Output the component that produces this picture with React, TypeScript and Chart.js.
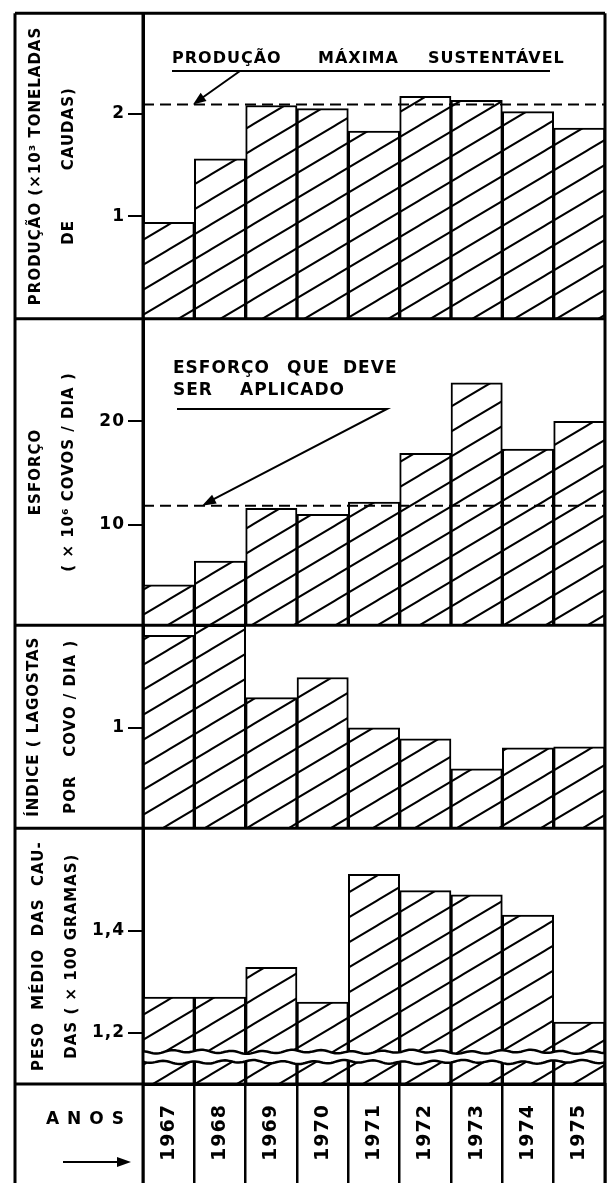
import React, { useEffect, useRef } from "react";
import { Chart, registerables } from "chart.js";

Chart.register(...registerables);

// ---------- data ----------
const YEARS = ["1967", "1968", "1969", "1970", "1971", "1972", "1973", "1974", "1975"];
// Produção (x10^3 toneladas de caudas)
const PRODUCAO = [0.94, 1.56, 2.08, 2.05, 1.83, 2.17, 2.13, 2.02, 1.86];
const PRODUCAO_MAX_SUSTENTAVEL = 2.09;
// Esforço (x10^6 covos/dia)
const ESFORCO = [4.2, 6.5, 11.6, 11.0, 12.2, 16.9, 23.7, 17.3, 20.0];
const ESFORCO_IDEAL = 11.85;
// Índice (lagostas por covo/dia)
const INDICE = [1.92, 2.02, 1.3, 1.5, 1.0, 0.89, 0.59, 0.8, 0.81];
// Peso médio das caudas (x100 gramas)
const PESO = [1.27, 1.27, 1.328, 1.26, 1.51, 1.478, 1.47, 1.43, 1.221];
const PESO_BREAK = [1.143, 1.163];

const PROD_TICKS = [1, 2];
const ESF_TICKS = [10, 20];
const IND_TICKS = [1];
const PESO_TICKS = [1.2, 1.4];

const PROD_TITLE = ["PRODUÇÃO (×10³ TONELADAS", "DE        CAUDAS)"];
const ESF_TITLE = ["ESFORÇO", "( × 10⁶ COVOS / DIA )"];
const IND_TITLE = ["ÍNDICE ( LAGOSTAS", "POR   COVO / DIA )"];
const PESO_TITLE = ["PESO  MÉDIO  DAS  CAU-", "DAS ( × 100 GRAMAS)"];

const FONT = "'DejaVu Sans', sans-serif";

function makeHatch(ctx: CanvasRenderingContext2D) {
  const W = 42;
  const H = 25;
  const c = document.createElement("canvas");
  c.width = W;
  c.height = H;
  const g = c.getContext("2d")!;
  g.fillStyle = "#fff";
  g.fillRect(0, 0, W, H);
  g.strokeStyle = "#000";
  g.lineWidth = 2;
  for (const dy of [-H, 0, H]) {
    g.beginPath();
    g.moveTo(-W, 2 * H + dy);
    g.lineTo(2 * W, -H + dy);
    g.stroke();
  }
  return ctx.createPattern(c, "repeat")!;
}

function yScale(opts: {
  min: number;
  max: number;
  ticks: number[];
  weight: number;
  stackWeight: number;
  title: string[];
  titlePad: number;
  lineHeight: number;
  fmt: (v: number) => string;
}) {
  return {
    type: "linear",
    position: "left",
    stack: "panels",
    stackWeight: opts.stackWeight,
    weight: opts.weight,
    min: opts.min,
    max: opts.max,
    afterFit: (s: any) => {
      s.width = 128;
    },
    afterBuildTicks: (s: any) => {
      s.ticks = opts.ticks.map((v) => ({ value: v }));
    },
    grid: { drawOnChartArea: false, drawTicks: true, tickLength: 15, color: "#000", lineWidth: 2 },
    border: { display: true, color: "#000", width: 3 },
    ticks: {
      color: "#000",
      padding: 3,
      font: { family: FONT, size: 17, weight: "bold" },
      callback: (v: any) => opts.fmt(Number(v)),
    },
    title: {
      display: true,
      text: opts.title,
      color: "#000",
      font: { family: FONT, size: 15, weight: "bold", lineHeight: opts.lineHeight + "px" },
      padding: { top: opts.titlePad, bottom: 0 },
    },
  };
}

function arrowHead(ctx: CanvasRenderingContext2D, x0: number, y0: number, x1: number, y1: number, len: number, wid: number) {
  const a = Math.atan2(y1 - y0, x1 - x0);
  ctx.beginPath();
  ctx.moveTo(x1, y1);
  ctx.lineTo(x1 - len * Math.cos(a) + wid * Math.sin(a), y1 - len * Math.sin(a) - wid * Math.cos(a));
  ctx.lineTo(x1 - len * Math.cos(a) - wid * Math.sin(a), y1 - len * Math.sin(a) + wid * Math.cos(a));
  ctx.closePath();
  ctx.fill();
}

function wave(x: number, phase: number) {
  return 1.3 * Math.sin(x * 0.21 + phase) + 0.8 * Math.sin(x * 0.057 + phase * 2);
}

const decoPlugin = {
  id: "deco",
  beforeDraw(chart: any) {
    chart.ctx.letterSpacing = "1px";
  },
  afterDatasetsDraw(chart: any) {
    const ctx: CanvasRenderingContext2D = chart.ctx;
    const { left, right } = chart.chartArea;
    const { y1, y2, y4 } = chart.scales;
    ctx.save();
    // axis break in bottom panel
    const yt = y4.getPixelForValue(PESO_BREAK[1]);
    const yb = y4.getPixelForValue(PESO_BREAK[0]);
    ctx.beginPath();
    for (let x = left; x <= right; x += 2) ctx.lineTo(x, yt + wave(x, 0));
    for (let x = right; x >= left; x -= 2) ctx.lineTo(x, yb + wave(x, 1.7));
    ctx.closePath();
    ctx.fillStyle = "#fff";
    ctx.fill();
    ctx.strokeStyle = "#000";
    ctx.lineWidth = 2.5;
    for (const [y, ph] of [
      [yt, 0],
      [yb, 1.7],
    ]) {
      ctx.beginPath();
      for (let x = left; x <= right; x += 2) ctx.lineTo(x, y + wave(x, ph));
      ctx.stroke();
    }
    // dashed reference lines
    ctx.setLineDash([11, 6]);
    ctx.lineWidth = 2;
    for (const [sc, v] of [
      [y1, PRODUCAO_MAX_SUSTENTAVEL],
      [y2, ESFORCO_IDEAL],
    ]) {
      const y = (sc as any).getPixelForValue(v);
      ctx.beginPath();
      ctx.moveTo(left, y);
      ctx.lineTo(right, y);
      ctx.stroke();
    }
    ctx.restore();
  },
  afterDraw(chart: any) {
    const ctx: CanvasRenderingContext2D = chart.ctx;
    const { left, right, bottom } = chart.chartArea;
    const { y1, y2, y3, y4 } = chart.scales;
    const outerL = y1.left;
    const H = chart.height;
    ctx.save();
    ctx.strokeStyle = "#000";
    ctx.fillStyle = "#000";
    ctx.lineWidth = 3;
    ctx.setLineDash([]);
    // frame
    ctx.beginPath();
    for (const y of [y1.top, y1.bottom, y2.bottom, y3.bottom, y4.bottom]) {
      ctx.moveTo(outerL, y);
      ctx.lineTo(right, y);
    }
    for (const x of [outerL, left, right]) {
      ctx.moveTo(x, y1.top);
      ctx.lineTo(x, H);
    }
    ctx.stroke();

    // annotation panel 1
    const yMsy = y1.getPixelForValue(PRODUCAO_MAX_SUSTENTAVEL);
    ctx.letterSpacing = "1px";
    ctx.font = `bold 16px ${FONT}`;
    ctx.textBaseline = "alphabetic";
    ctx.textAlign = "left";
    ctx.fillText("PRODUÇÃO", 172, 63);
    ctx.fillText("MÁXIMA", 318, 63);
    ctx.fillText("SUSTENTÁVEL", 428, 63);
    ctx.lineWidth = 2;
    ctx.beginPath();
    ctx.moveTo(172, 71);
    ctx.lineTo(550, 71);
    ctx.moveTo(240, 71);
    ctx.lineTo(197, yMsy - 3);
    ctx.stroke();
    arrowHead(ctx, 240, 71, 193, yMsy, 13, 5);

    // annotation panel 2
    const yEsf = y2.getPixelForValue(ESFORCO_IDEAL);
    ctx.font = `bold 17px ${FONT}`;
    ctx.fillText("ESFORÇO", 173, 373);
    ctx.fillText("QUE", 287, 373);
    ctx.fillText("DEVE", 343, 373);
    ctx.fillText("SER", 173, 395);
    ctx.fillText("APLICADO", 240, 395);
    ctx.beginPath();
    ctx.moveTo(177, 409);
    ctx.lineTo(387, 409);
    ctx.lineTo(207, yEsf - 3);
    ctx.stroke();
    arrowHead(ctx, 387, 409, 202, yEsf, 14, 5);

    // ANOS
    ctx.letterSpacing = "8px";
    ctx.font = `bold 17px ${FONT}`;
    ctx.textAlign = "center";
    ctx.textBaseline = "middle";
    ctx.fillText("ANOS", 89, bottom + 36);
    ctx.letterSpacing = "0px";
    ctx.lineWidth = 2;
    ctx.beginPath();
    ctx.moveTo(63, bottom + 78);
    ctx.lineTo(120, bottom + 78);
    ctx.stroke();
    arrowHead(ctx, 63, bottom + 78, 131, bottom + 78, 14, 5);
    ctx.restore();
  },
};

export default function App() {
  const ref = useRef<HTMLCanvasElement>(null);
  useEffect(() => {
    const canvas = ref.current!;
    const ctx = canvas.getContext("2d")!;
    const hatch = makeHatch(ctx);
    const ds = (data: number[], yAxisID: string) => ({
      data,
      yAxisID,
      xAxisID: "x",
      grouped: false,
      barPercentage: 1,
      categoryPercentage: 1,
      backgroundColor: hatch,
      borderColor: "#000",
      borderWidth: 2,
    });
    const chart = new Chart(canvas, {
      type: "bar",
      data: {
        labels: YEARS,
        datasets: [ds(PRODUCAO, "y1"), ds(ESFORCO, "y2"), ds(INDICE, "y3"), ds(PESO, "y4")] as any,
      },
      options: {
        responsive: false,
        animation: false,
        layout: { padding: { left: 15, top: 8, right: 6, bottom: 0 } },
        plugins: { legend: { display: false }, tooltip: { enabled: false } },
        scales: {
          x: {
            type: "category",
            position: "bottom",
            offset: true,
            afterFit: (s: any) => {
              s.height = 99;
            },
            grid: { offset: true, drawOnChartArea: false, drawTicks: true, tickLength: 100, color: "#000", lineWidth: 2.5 },
            border: { display: true, color: "#000", width: 3 },
            ticks: {
              autoSkip: false,
              minRotation: 90,
              maxRotation: 90,
              padding: -80,
              color: "#000",
              font: { family: FONT, size: 19, weight: "bold" },
            },
          },
          y1: yScale({ min: 0, max: 2.98, ticks: PROD_TICKS, weight: 4, stackWeight: 307, title: PROD_TITLE, titlePad: 5, lineHeight: 33, fmt: (v) => String(v) }),
          y2: yScale({ min: 0.3, max: 29.9, ticks: ESF_TICKS, weight: 3, stackWeight: 308, title: ESF_TITLE, titlePad: 5, lineHeight: 33, fmt: (v) => String(v) }),
          y3: yScale({ min: 0, max: 2.02, ticks: IND_TICKS, weight: 2, stackWeight: 204, title: IND_TITLE, titlePad: 1, lineHeight: 37, fmt: (v) => String(v) }),
          y4: yScale({ min: 1.1, max: 1.6, ticks: PESO_TICKS, weight: 1, stackWeight: 257, title: PESO_TITLE, titlePad: 8, lineHeight: 33, fmt: (v) => v.toFixed(1).replace(".", ",") }),
        } as any,
      },
      plugins: [decoPlugin],
    });
    return () => chart.destroy();
  }, []);
  return (
    <div style={{ position: "absolute", left: 0, top: 0, width: 611, height: 1183, background: "#fff" }}>
      <canvas ref={ref} width={611} height={1183} style={{ display: "block", width: 611, height: 1183 }} />
    </div>
  );
}
